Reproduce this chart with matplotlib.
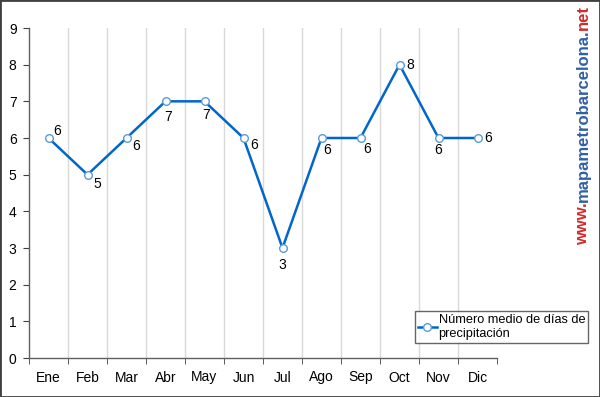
import numpy as np
import matplotlib.pyplot as plt
from matplotlib.patches import Rectangle

plt.rcParams['font.family'] = ['Liberation Sans', 'DejaVu Sans']

# --- DATA ---
months = ["Ene", "Feb", "Mar", "Abr", "May", "Jun", "Jul", "Ago", "Sep", "Oct", "Nov", "Dic"]
rain_days = [6, 5, 6, 7, 7, 6, 3, 6, 6, 8, 6, 6]
series_name = "Número medio de días de\nprecipitación"
y_ticks = list(range(0, 10))
watermark = [("www.", "#d42a2a"), ("mapametrobarcelona.", "#2f5fa5"), ("net", "#d42a2a")]

# label offsets in points (dx, dy), as placed in the original
label_offsets = [(6, 5), (7, -7), (7, -6), (2, -11), (1, -10), (8, -5),
                 (0, -12), (4, -9), (5, -8), (8, 0), (0, -9), (8, 0)]

fig = plt.figure(figsize=(6.0, 3.97), dpi=100)
ax = fig.add_axes([29 / 600, 39 / 397, 468 / 600, 330 / 397])

x = np.arange(len(months))
ax.plot(x, rain_days, color="#0066cc", linewidth=1.8, marker="o", markersize=5.5,
        markerfacecolor="white", markeredgecolor="#5b9bd5", markeredgewidth=1,
        label=series_name, zorder=3)

for xi, v, (dx, dy) in zip(x, rain_days, label_offsets):
    ax.annotate(str(v), (xi, v), xytext=(dx, dy), textcoords="offset points",
                ha="center", va="center", fontsize=10, color="black")

ax.set_xlim(-0.5, len(months) - 0.5)
ax.set_ylim(0, 9)
ax.set_yticks(y_ticks)
ax.set_xticks(x)
ax.set_xticklabels(months)
ax.set_xticks(np.arange(-0.5, len(months)), minor=True)
ax.tick_params(axis="x", which="major", length=0, pad=9, labelsize=10)
ax.tick_params(axis="x", which="minor", length=4, color="#404040", direction="out")
ax.tick_params(axis="y", length=4, color="#404040", labelsize=10, pad=5)

for b in np.arange(0.5, len(months) - 1):
    ax.axvline(b, color="#d9d9d9", linewidth=1, zorder=0)

for s in ["top", "right"]:
    ax.spines[s].set_visible(False)
for s in ["left", "bottom"]:
    ax.spines[s].set_color("#606060")
    ax.spines[s].set_linewidth(1)

leg = ax.legend(loc="upper left", bbox_to_anchor=(415 / 600, 1 - 311 / 397),
                bbox_transform=fig.transFigure, fontsize=9.2, frameon=True, fancybox=False,
                handlelength=1.5, handletextpad=0.15, borderpad=0.2, borderaxespad=0)
leg.get_frame().set_edgecolor("#404040")
leg.get_frame().set_linewidth(1)
for t in leg.get_texts():
    t.set_linespacing(1.3)

# watermark: stack the coloured parts one after another, bottom to top
fig.canvas.draw()
renderer = fig.canvas.get_renderer()
wm_fs = 12
texts = []
for part, col in watermark:
    texts.append(fig.text(583 / 600, 0, part, rotation=90, color=col, fontsize=wm_fs,
                          fontweight="bold", ha="center", va="bottom"))
heights = [t.get_window_extent(renderer).height for t in texts]
scale = 240 / sum(heights)
for t in texts:
    t.set_fontsize(wm_fs * scale)
heights = [t.get_window_extent(renderer).height for t in texts]
pos = 397 - 245
for t, h in zip(texts, heights):
    t.set_y(pos / 397)
    pos += h

fig.patches.append(Rectangle((0, 0), 1, 1, transform=fig.transFigure, fill=False,
                             edgecolor="#404040", linewidth=2))

fig.savefig("out.png", dpi=100)
